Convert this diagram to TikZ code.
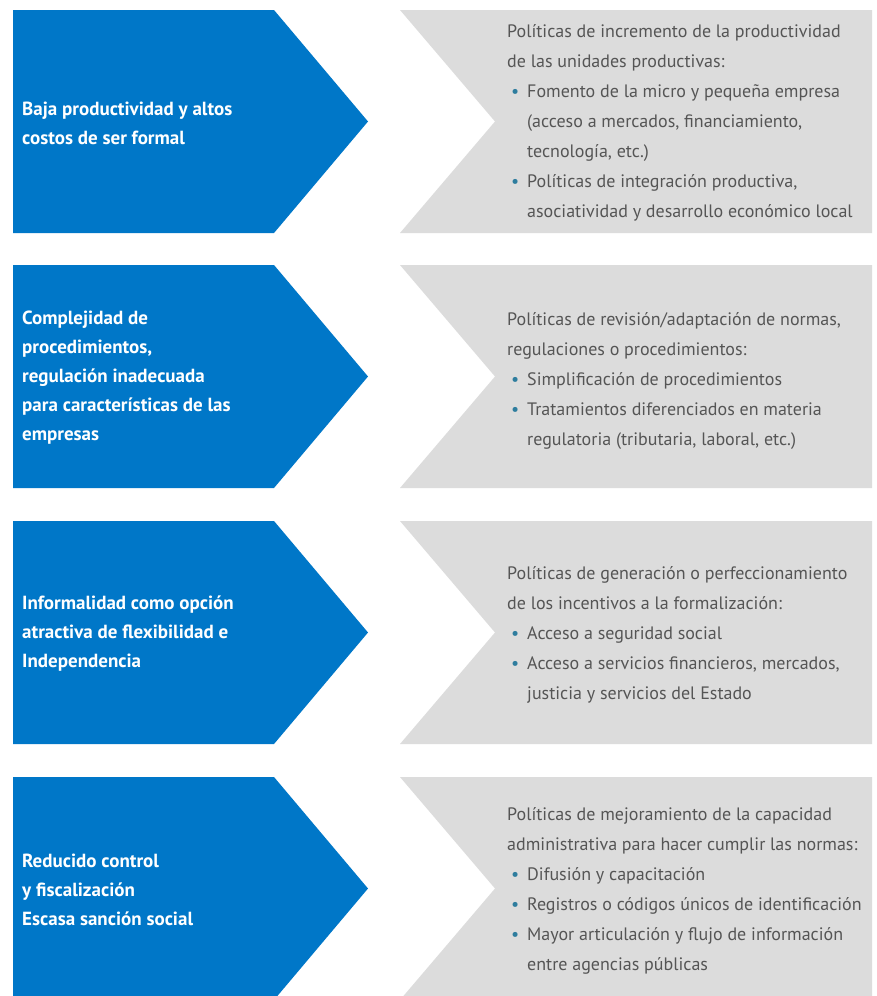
\documentclass[tikz,border=0pt]{standalone}
\usepackage{fontspec}
\setmainfont{PT Sans}
\definecolor{cblue}{HTML}{0077C8}
\definecolor{cgray}{HTML}{DCDCDC}
\definecolor{ctext}{HTML}{555555}
\definecolor{cbul}{HTML}{2E7D9E}
\newcommand{\bul}{\makebox[20bp][l]{\hspace{4bp}\textcolor{cbul}{•}}}
\newcommand{\ind}{\hspace*{20bp}}
\tikzset{
  bluebox/.style={fill=cblue, draw=none},
  graybox/.style={fill=cgray, draw=none},
  causetext/.style={anchor=west, inner sep=0pt, align=left, text=white,
    font=\fontsize{19bp}{29bp}\selectfont\bfseries},
  policytext/.style={anchor=west, inner sep=0pt, align=left, text=ctext,
    font=\fontsize{18bp}{30bp}\selectfont},
}
\begin{document}
\begin{tikzpicture}[x=1bp,y=-1bp]
\useasboundingbox (0,0) rectangle (877,996);
\fill[white] (0,0) rectangle (877,996);
\begin{scope}
\clip (0,0) rectangle (877,996);
\foreach \t/\n in {10/1,265/2,521/3,777/4}{
  \path[bluebox] (13,\t) -- (274,\t) -- (368,\t+111.5) -- (274,\t+223) -- (13,\t+223) -- cycle;
  \path[graybox] (400,\t) -- (872,\t) -- (872,\t+223) -- (400,\t+223) -- (495,\t+111.5) -- cycle;
}
\end{scope}
\node[causetext] (c1) at (22,123) {Baja productividad y altos\\costos de ser formal};
\node[causetext] (c2) at (22,378) {Complejidad de\\procedimientos,\\regulación inadecuada\\para características de las\\empresas};
\node[causetext] (c3) at (22,634) {Informalidad como opción\\atractiva de flexibilidad e\\Independencia};
\node[causetext] (c4) at (22,890) {Reducido control\\y fiscalización\\Escasa sanción social};

\node[policytext] (p1) at (507,123) {Políticas de incremento de la productividad\\
de las unidades productivas:\\
\bul Fomento de la micro y pequeña empresa\\
\ind (acceso a mercados, financiamiento,\\
\ind tecnología, etc.)\\
\bul Políticas de integración productiva,\\
\ind asociatividad y desarrollo económico local};
\node[policytext] (p2) at (507,381) {Políticas de revisión/adaptación de normas,\\
regulaciones o procedimientos:\\
\bul Simplificación de procedimientos\\
\bul Tratamientos diferenciados en materia\\
\ind regulatoria (tributaria, laboral, etc.)};
\node[policytext] (p3) at (507,635) {Políticas de generación o perfeccionamiento\\
de los incentivos a la formalización:\\
\bul Acceso a seguridad social\\
\bul Acceso a servicios financieros, mercados,\\
\ind justicia y servicios del Estado};
\node[policytext] (p4) at (507,891) {Políticas de mejoramiento de la capacidad\\
administrativa para hacer cumplir las normas:\\
\bul Difusión y capacitación\\
\bul Registros o códigos únicos de identificación\\
\bul Mayor articulación y flujo de información\\
\ind entre agencias públicas};
\end{tikzpicture}
\end{document}
